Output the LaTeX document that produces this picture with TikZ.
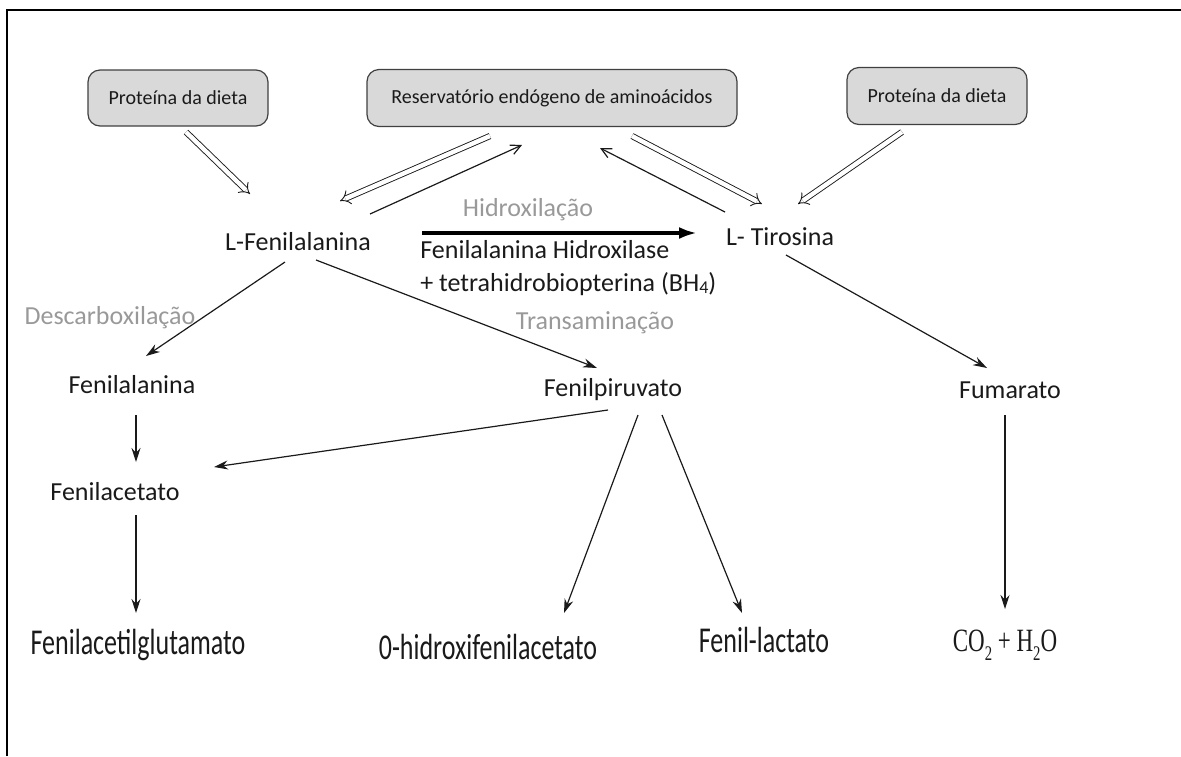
\documentclass[tikz,border=0pt]{standalone}
\usepackage{fontspec}
\usepackage{graphicx}
\setmainfont{Carlito}
\newfontfamily\serifff{Liberation Serif}
\usetikzlibrary{arrows.meta}
\definecolor{boxfill}{HTML}{D9D9D9}
\definecolor{boxdraw}{HTML}{404040}
\definecolor{lbl}{HTML}{999999}
\definecolor{ink}{HTML}{1A1A1A}
\newcommand{\lowsub}[1]{\raisebox{-0.6ex}{\fontsize{8}{8}\selectfont #1}}
\begin{document}
\begin{tikzpicture}[x=0.5pt,y=-0.5pt,
  srcbox/.style={draw=boxdraw, fill=boxfill, rounded corners=6pt, line width=0.6pt, font=\fontsize{10}{12}\selectfont, text=ink, inner sep=0pt},
  compound/.style={font=\fontsize{13}{15.6}\selectfont, text=ink, inner sep=1pt},
  tall/.style={font=\fontsize{13}{15}\selectfont, text=ink, inner sep=1pt},
  proc/.style={font=\fontsize{13}{15.6}\selectfont, text=lbl, inner sep=1pt},
  dbl/.style={draw=ink, double, double distance=2.2pt, line width=0.45pt, -{Implies[length=4pt]}},
  sgl/.style={draw=ink, line width=0.6pt, -{Stealth[length=7pt,width=4.5pt]}},
  back/.style={draw=ink, line width=0.6pt, -{Straight Barb[length=5pt,width=5pt]}},
  thick arrow/.style={draw=black, line width=2pt, -{Latex[length=9pt,width=6pt]}}
]
\useasboundingbox (0,0) rectangle (1181,756);
\draw[line width=1pt, black] (7,756) -- (7,10) -- (1181,10);

% source boxes
\node[srcbox, minimum width=90pt, minimum height=28pt] (p1) at (178,98) {Proteína da dieta};
\node[srcbox, minimum width=185pt, minimum height=28.5pt] (res) at (552,98) {Reservatório endógeno de aminoácidos};
\node[srcbox, minimum width=90pt, minimum height=28.5pt] (p2) at (937,96) {Proteína da dieta};

% compounds
\node[compound] (lfen) at (298,242) {L-Fenilalanina};
\node[compound] (ltir) at (780,237) {L- Tirosina};
\node[proc] (hidrox) at (528,210) {Hidroxilação};
\node[compound, anchor=west, align=left, font=\fontsize{13}{16.5}\selectfont] (enz) at (418,268) {Fenilalanina Hidroxilase\\+ tetrahidrobiopterina (BH{\fontsize{9}{9}\selectfont\raisebox{-0.25ex}{4}})};
\node[proc] (desc) at (110,318) {Descarboxilação};
\node[proc] (trans) at (595,323) {Transaminação};
\node[compound] (fen) at (132,385) {Fenilalanina};
\node[compound] (fpir) at (613,390) {Fenilpiruvato};
\node[compound] (fum) at (1010,390) {Fumarato};
\node[compound] (facet) at (115,492) {Fenilacetato};
\node[tall] (fglu) at (138,645) {\scalebox{1}[1.4]{Fenilacetilglutamato}};
\node[tall] (ohid) at (488,647) {\scalebox{1}[1.4]{0-hidroxifenilacetato}};
\node[tall] (flac) at (764,640) {\scalebox{1}[1.4]{Fenil-lactato}};
\node[tall, font=\serifff\fontsize{12.5}{15}\selectfont] (co2) at (1005,645) {\scalebox{0.92}[1.3]{CO\lowsub{2} + H\lowsub{2}O}};

% connector end points
\coordinate (a1s) at (186,132); \coordinate (a1e) at (250,194);
\coordinate (a2s) at (490,136); \coordinate (a2e) at (340,201);
\coordinate (a3s) at (370,214); \coordinate (a3e) at (522,145);
\coordinate (a4s) at (725,212); \coordinate (a4e) at (600,148);
\coordinate (a5s) at (632,136); \coordinate (a5e) at (762,204);
\coordinate (a6s) at (902,132); \coordinate (a6e) at (798,204);
\coordinate (hs) at (422,233); \coordinate (he) at (697,233);
\coordinate (b1s) at (285,262); \coordinate (b1e) at (146,356);
\coordinate (b2s) at (316,260); \coordinate (b2e) at (597,368);
\coordinate (b3s) at (786,255); \coordinate (b3e) at (987,368);
\coordinate (c1s) at (136,415); \coordinate (c1e) at (136,462);
\coordinate (c2s) at (608,410); \coordinate (c2e) at (214,467);
\coordinate (c3s) at (136,515); \coordinate (c3e) at (136,613);
\coordinate (c4s) at (638,415); \coordinate (c4e) at (564,613);
\coordinate (c5s) at (662,415); \coordinate (c5e) at (742,613);
\coordinate (c6s) at (1005,415); \coordinate (c6e) at (1005,609);

\draw[dbl] (a1s) -- (a1e);
\draw[dbl] (a2s) -- (a2e);
\draw[back] (a3s) -- (a3e);
\draw[back] (a4s) -- (a4e);
\draw[dbl] (a5s) -- (a5e);
\draw[dbl] (a6s) -- (a6e);
\draw[thick arrow] (hs) -- (he);
\draw[sgl] (b1s) -- (b1e);
\draw[sgl] (b2s) -- (b2e);
\draw[sgl] (b3s) -- (b3e);
\draw[sgl] (c1s) -- (c1e);
\draw[sgl] (c2s) -- (c2e);
\draw[sgl] (c3s) -- (c3e);
\draw[sgl] (c4s) -- (c4e);
\draw[sgl] (c5s) -- (c5e);
\draw[sgl] (c6s) -- (c6e);
\end{tikzpicture}
\end{document}
